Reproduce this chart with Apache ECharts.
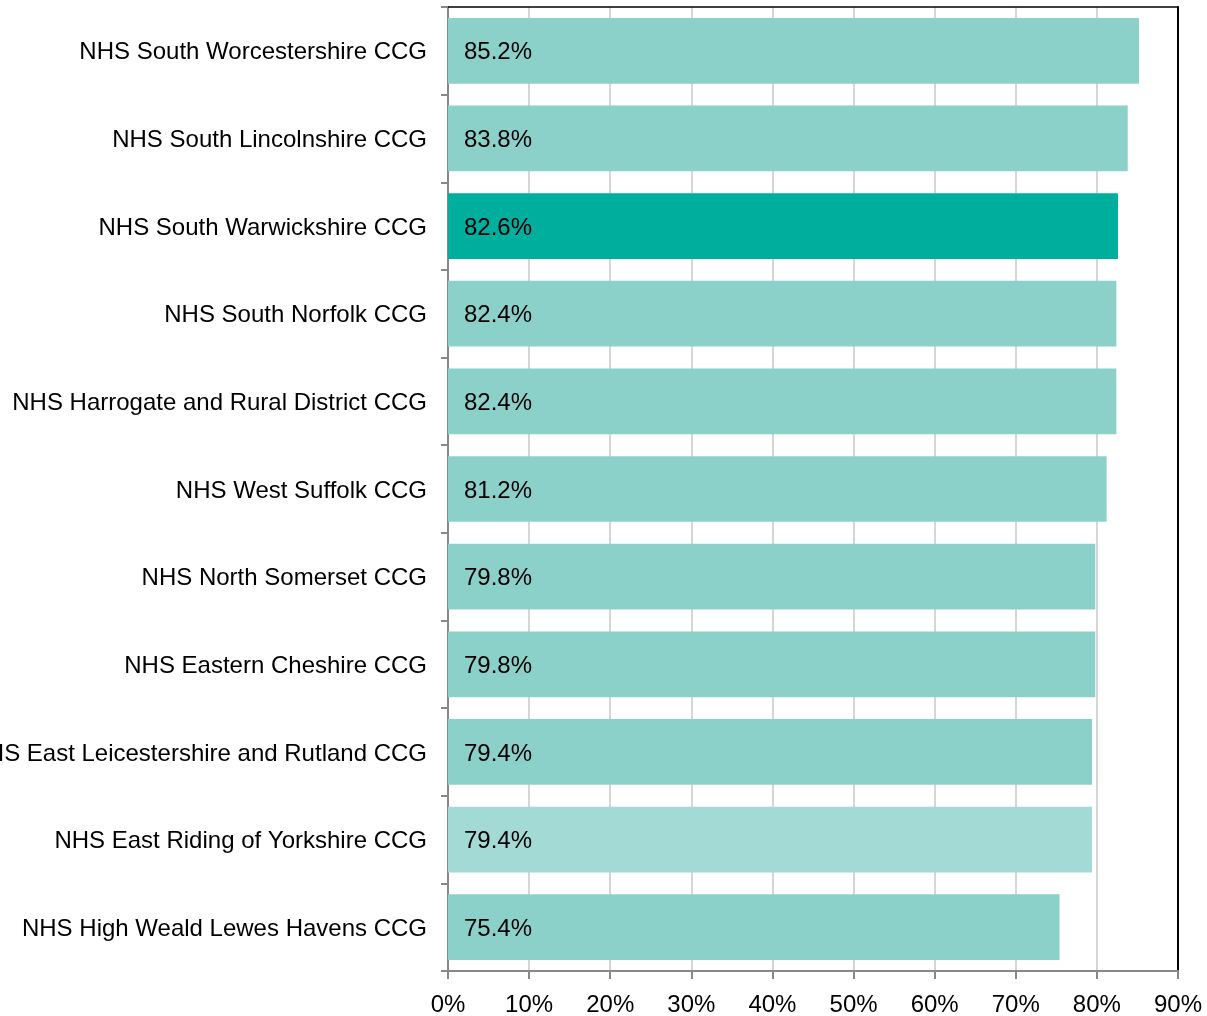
<!DOCTYPE html>
<html>
<head>
<meta charset="utf-8">
<script src="https://cdn.jsdelivr.net/npm/echarts@6/dist/echarts.min.js"></script>
<style>
  html, body { margin: 0; padding: 0; background: #fff; }
  #chart { width: 1207px; height: 1016px; }
</style>
</head>
<body>
<div id="chart"></div>
<script>
// CCG names, top to bottom
const ccgNames = [
    'NHS South Worcestershire CCG',
    'NHS South Lincolnshire CCG',
    'NHS South Warwickshire CCG',
    'NHS South Norfolk CCG',
    'NHS Harrogate and Rural District CCG',
    'NHS West Suffolk CCG',
    'NHS North Somerset CCG',
    'NHS Eastern Cheshire CCG',
    'NHS East Leicestershire and Rutland CCG',
    'NHS East Riding of Yorkshire CCG',
    'NHS High Weald Lewes Havens CCG'
];
const percentValues = [85.2, 83.8, 82.6, 82.4, 82.4, 81.2, 79.8, 79.8, 79.4, 79.4, 75.4];

const baseColor = '#8bd1ca';
const highlightName = 'NHS South Warwickshire CCG';
const lightName = 'NHS East Riding of Yorkshire CCG';

const chart = echarts.init(document.getElementById('chart'));
const font = 'Liberation Sans, Arial, sans-serif';

const option = {
    animation: false,
    grid: {
        left: 448,
        right: 29,
        top: 7,
        bottom: 45,
        containLabel: false,
        outerBoundsMode: 'none' // let the long label run off the left edge
    },
    xAxis: [{
        type: 'value',
        min: 0,
        max: 90,
        interval: 10,
        axisLine: { show: true, lineStyle: { color: '#888', width: 2 } },
        axisTick: { show: true, length: 8, lineStyle: { color: '#888', width: 2 } },
        splitLine: { show: true, lineStyle: { color: '#c8c8c8', width: 1.5 } },
        axisLabel: {
            formatter: '{value}%',
            color: '#000',
            fontFamily: font,
            fontSize: 24,
            margin: 22
        }
    }, {
        // top border of the plot
        type: 'value',
        position: 'top',
        min: 0,
        max: 90,
        axisLine: { show: true, onZero: false, lineStyle: { color: '#000', width: 1.5 } },
        axisTick: { show: false },
        axisLabel: { show: false },
        splitLine: { show: false }
    }],
    yAxis: [{
        type: 'category',
        inverse: true,
        data: ccgNames,
        axisLine: { show: true, lineStyle: { color: '#888', width: 2 } },
        axisTick: { show: true, length: 7, lineStyle: { color: '#888', width: 2 } },
        splitLine: { show: false },
        axisLabel: {
            color: '#000',
            fontFamily: font,
            fontSize: 24,
            margin: 21,
            formatter: v => '{t|' + v + '}',
            rich: { t: { fontFamily: font, fontSize: 24, color: '#000', padding: [4, 0, 0, 0] } }
        }
    }, {
        // right border of the plot
        type: 'category',
        position: 'right',
        inverse: true,
        data: ccgNames,
        axisLine: { show: true, onZero: false, lineStyle: { color: '#000', width: 2 } },
        axisTick: { show: false },
        axisLabel: { show: false },
        splitLine: { show: false }
    }],
    series: [{
        type: 'bar',
        barCategoryGap: '25%',
        data: percentValues.map((v, i) => ({
            value: v,
            itemStyle: {
                color: ccgNames[i] === highlightName ? '#00ae9e'
                    : ccgNames[i] === lightName ? '#a3dad5' : baseColor
            }
        })),
        label: {
            show: true,
            position: 'insideLeft',
            distance: 16,
            offset: [0, 2],
            color: '#000',
            fontFamily: font,
            fontSize: 24,
            formatter: p => p.value.toFixed(1) + '%'
        }
    }]
};

chart.setOption(option);
</script>
</body>
</html>
